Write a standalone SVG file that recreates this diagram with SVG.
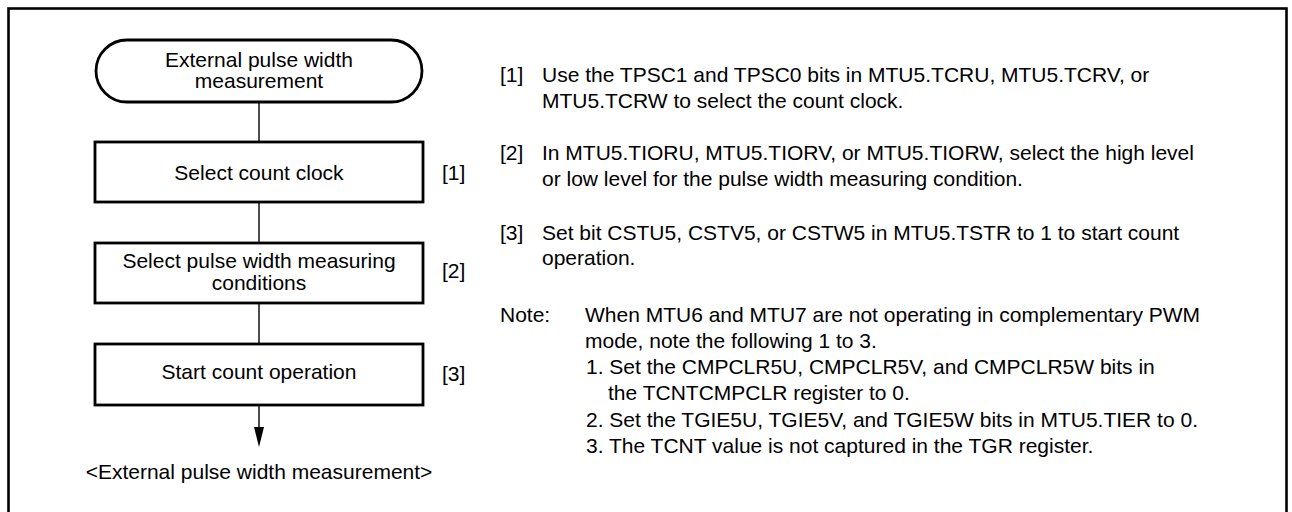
<svg xmlns="http://www.w3.org/2000/svg" width="1292" height="512" viewBox="0 0 1292 512">
  <style>
    text { font-family: "Liberation Sans", Arial, sans-serif; font-size: 21px; fill: #000; }
    .c { text-anchor: middle; }
    .box { fill: #fff; stroke: #000; stroke-width: 2.8; }
    .line { stroke: #000; stroke-width: 1.4; fill: none; }
  </style>
  <defs>
    <marker id="arrow" markerWidth="10" markerHeight="20" refX="5" refY="20" orient="auto-start-reverse" markerUnits="userSpaceOnUse" viewBox="0 0 10 20">
      <path d="M0,0 L10,0 L5,20 Z" fill="#000"/>
    </marker>
  </defs>
  <rect x="0" y="0" width="1292" height="512" fill="#fff"/>
  <rect id="frame" x="8.5" y="8.5" width="1278" height="520" fill="none" stroke="#000" stroke-width="2.6"/>

  <g id="connectors">
    <line class="line" x1="259" y1="102" x2="259" y2="142"/>
    <line class="line" x1="259" y1="202" x2="259" y2="243"/>
    <line class="line" x1="259" y1="303" x2="259" y2="344"/>
    <line class="line" x1="259" y1="405" x2="259" y2="427"/>
    <path d="M254,427 L264,427 L259,447 Z" fill="#000"/>
  </g>

  <g id="start">
    <rect class="box" x="96" y="40" width="326" height="62" rx="31" ry="31" stroke-width="2.4"/>
    <text class="c" x="259" y="67">External pulse width</text>
    <text class="c" x="259" y="88">measurement</text>
  </g>

  <g id="step1">
    <rect class="box" x="95" y="142" width="328" height="60"/>
    <text class="c" x="259" y="180">Select count clock</text>
    <text x="442" y="180">[1]</text>
  </g>

  <g id="step2">
    <rect class="box" x="95" y="243" width="328" height="60"/>
    <text class="c" x="259" y="268">Select pulse width measuring</text>
    <text class="c" x="259" y="290">conditions</text>
    <text x="442" y="278">[2]</text>
  </g>

  <g id="step3">
    <rect class="box" x="95" y="344" width="328" height="61"/>
    <text class="c" x="259" y="379">Start count operation</text>
    <text x="442" y="381">[3]</text>
  </g>

  <g id="end">
    <text class="c" x="259" y="479">&lt;External pulse width measurement&gt;</text>
  </g>

  <g id="notes">
    <text x="500" y="82">[1]</text>
    <text x="542" y="82">Use the TPSC1 and TPSC0 bits in MTU5.TCRU, MTU5.TCRV, or</text>
    <text x="542" y="108">MTU5.TCRW to select the count clock.</text>

    <text x="500" y="160">[2]</text>
    <text x="542" y="160">In MTU5.TIORU, MTU5.TIORV, or MTU5.TIORW, select the high level</text>
    <text x="542" y="186">or low level for the pulse width measuring condition.</text>

    <text x="500" y="240">[3]</text>
    <text x="542" y="240">Set bit CSTU5, CSTV5, or CSTW5 in MTU5.TSTR to 1 to start count</text>
    <text x="542" y="265">operation.</text>

    <text x="500" y="322">Note:</text>
    <text x="585" y="322">When MTU6 and MTU7 are not operating in complementary PWM</text>
    <text x="585" y="348">mode, note the following 1 to 3.</text>
    <text x="586" y="374">1. Set the CMPCLR5U, CMPCLR5V, and CMPCLR5W bits in</text>
    <text x="608" y="400">the TCNTCMPCLR register to 0.</text>
    <text x="586" y="427">2. Set the TGIE5U, TGIE5V, and TGIE5W bits in MTU5.TIER to 0.</text>
    <text x="586" y="453">3. The TCNT value is not captured in the TGR register.</text>
  </g>
</svg>
